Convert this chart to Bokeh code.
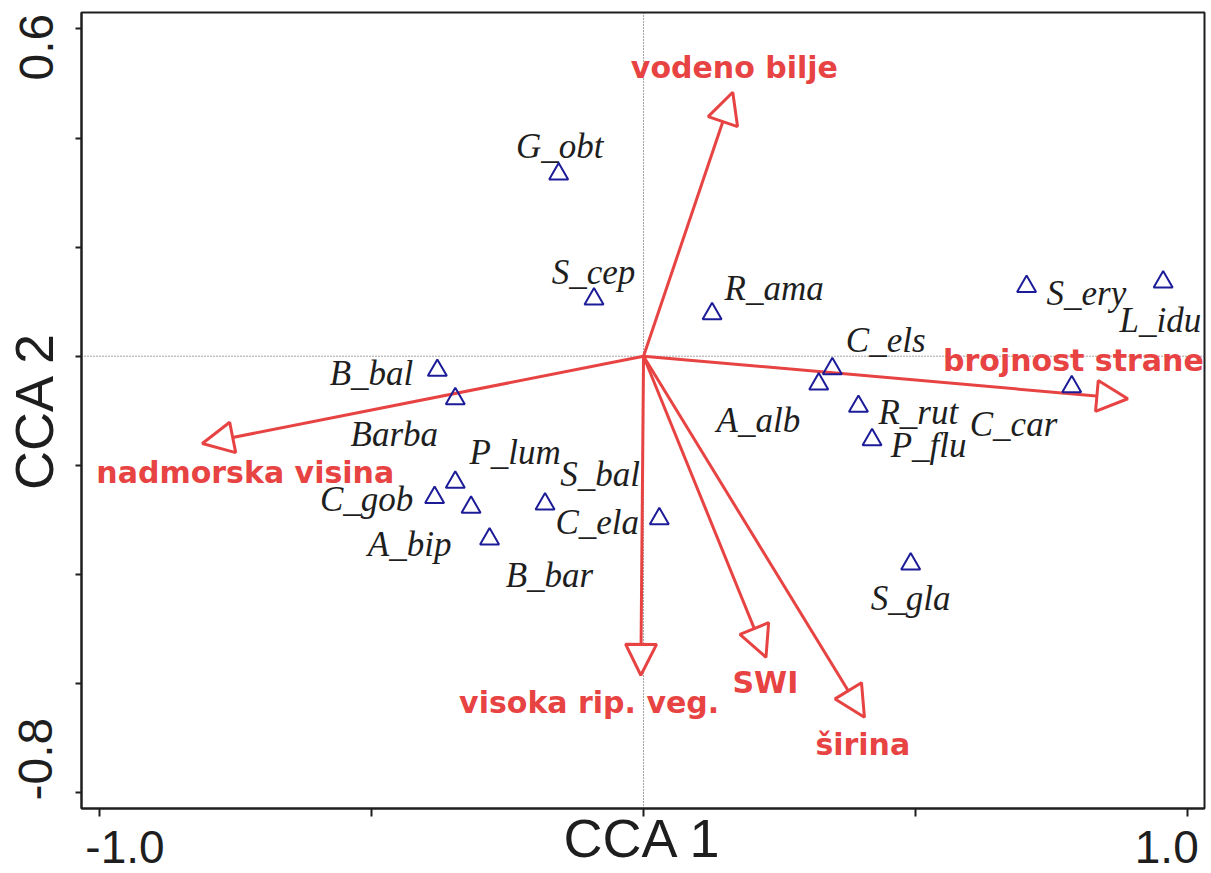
import math
from bokeh.plotting import figure
from bokeh.models import (ColumnDataSource, Arrow, NormalHead, Span,
                          FixedTicker, Range1d, CustomJSTickFormatter)
from bokeh.core.properties import value
from bokeh.embed import file_html
from bokeh.resources import INLINE

# ---- species scores (triangles) ----
species = ["G_obt", "S_cep", "R_ama", "B_bal", "Barba", "P_lum", "C_gob", "A_bip",
           "B_bar", "S_bal", "C_ela", "S_gla", "C_els", "A_alb", "R_rut", "P_flu",
           "C_car", "S_ery", "L_idu"]
sp_x = [-0.156, -0.091, 0.126, -0.379, -0.346, -0.346, -0.384, -0.317,
        -0.283, -0.181, 0.029, 0.491, 0.347, 0.322, 0.395, 0.420,
        0.787, 0.704, 0.955]
sp_y = [0.334, 0.105, 0.078, -0.026, -0.078, -0.231, -0.259, -0.277,
        -0.335, -0.271, -0.298, -0.381, -0.023, -0.051, -0.092, -0.153,
        -0.056, 0.128, 0.136]
# anchor positions of the species names (data units)
sp_label_x = [-0.154, -0.092, 0.240, -0.500, -0.458, -0.236, -0.509, -0.430,
              -0.173, -0.080, -0.085, 0.491, 0.445, 0.211, 0.505, 0.524,
              0.680, 0.814, 0.950]
sp_label_y = [0.384, 0.153, 0.124, -0.032, -0.144, -0.177, -0.263, -0.345,
              -0.402, -0.217, -0.305, -0.444, 0.029, -0.118, -0.103, -0.164,
              -0.125, 0.115, 0.066]

# ---- environmental variables (arrows) ----
env_names = ["vodeno bilje", "brojnost strane", "nadmorska visina",
             "visoka rip. veg.", "SWI", "širina"]
env_x = [0.164, 0.890, -0.811, -0.005, 0.225, 0.406]
env_y = [0.484, -0.078, -0.160, -0.585, -0.552, -0.662]
env_label_x = [0.167, 0.790, -0.732, -0.100, 0.224, 0.403]
env_label_y = [0.529, -0.008, -0.213, -0.635, -0.599, -0.712]

# ---- axes ----
x_ticks = [-1.0, -0.5, 0.0, 0.5, 1.0]
x_labeled = [-1.0, 1.0]
x_tick_labels = ["-1.0", "1.0"]
y_ticks = [0.6, 0.4, 0.2, 0.0, -0.2, -0.4, -0.6, -0.8]
y_labeled = [0.6, -0.8]
y_tick_labels = ["0.6", "-0.8"]
x_title = "CCA 1"
y_title = "CCA 2"

# tick labels are nudged toward the inside of the frame (as in the original)
x_pad_before = [4, 0]
x_pad_after = [0, 1]
y_pad_before = [0, 5]
y_pad_after = [1, 0]

RED = "#e84343"
BLUE = "#1c1c98"
INK = "#1e1e1e"

p = figure(width=1211, height=873,
           x_range=Range1d(-1.033, 1.031), y_range=Range1d(-0.8293, 0.6302),
           output_backend="svg", toolbar_location=None,
           min_border_left=79, min_border_top=12, min_border_right=7,
           min_border_bottom=65)
p.xgrid.visible = False
p.ygrid.visible = False
p.outline_line_color = INK
p.outline_line_width = 2
p.background_fill_color = "white"
p.border_fill_color = "white"

fmt_code = """
const sp = "\\u00a0";
for (let i = 0; i < vals.length; i++) {
  if (Math.abs(tick - vals[i]) < 1e-6) {
    return sp.repeat(pb[i]) + labs[i] + sp.repeat(pa[i]);
  }
}
return "";
"""
p.xaxis.ticker = FixedTicker(ticks=x_ticks, minor_ticks=[])
p.xaxis.formatter = CustomJSTickFormatter(
    args=dict(vals=x_labeled, labs=x_tick_labels, pb=x_pad_before, pa=x_pad_after), code=fmt_code)
p.yaxis.ticker = FixedTicker(ticks=y_ticks, minor_ticks=[])
p.yaxis.formatter = CustomJSTickFormatter(
    args=dict(vals=y_labeled, labs=y_tick_labels, pb=y_pad_before, pa=y_pad_after), code=fmt_code)
for ax in (p.xaxis, p.yaxis):
    ax.axis_line_color = INK
    ax.axis_line_width = 2
    ax.major_tick_line_color = INK
    ax.major_tick_line_width = 2
    ax.major_tick_in = 0
    ax.minor_tick_out = 0
    ax.minor_tick_in = 0
    ax.major_label_text_font = "Liberation Sans"
    ax.major_label_text_color = INK
    ax.axis_label_text_font = "Liberation Sans"
    ax.axis_label_text_font_style = "normal"
    ax.axis_label_text_font_size = "54px"
    ax.axis_label_text_color = INK
p.xaxis.major_label_text_font_size = "46px"
p.yaxis.major_label_text_font_size = "48px"
p.xaxis.major_tick_out = 8
p.xaxis.major_label_standoff = 4
p.xaxis.axis_label = x_title
p.xaxis.axis_label_standoff = -68
p.yaxis.major_tick_out = 6
p.yaxis.major_label_standoff = 13
p.yaxis.major_label_orientation = "vertical"
p.yaxis.axis_label = y_title
p.yaxis.axis_label_standoff = -57

# dotted cross lines through origin
p.add_layout(Span(location=0, dimension="height", line_color="#444444",
                  line_width=1, line_dash="1 2", level="underlay"))
p.add_layout(Span(location=0, dimension="width", line_color="#444444",
                  line_width=1, line_dash="1 2", level="underlay"))

# arrows
env_src = ColumnDataSource(dict(x=env_x, y=env_y, lx=env_label_x, ly=env_label_y, name=env_names))
p.add_layout(Arrow(end=NormalHead(size=31, fill_color="white", line_color=RED, line_width=3),
                   x_start=0, y_start=0, x_end="x", y_end="y", source=env_src,
                   line_color=RED, line_width=3, level="underlay"))

# species
sp_src = ColumnDataSource(dict(x=sp_x, y=sp_y, lx=sp_label_x, ly=sp_label_y, name=species))
p.scatter("x", "y", source=sp_src, marker="triangle", size=19,
          fill_color=None, line_color=BLUE, line_width=2)
p.text("lx", "ly", text="name", source=sp_src, text_font=value("Liberation Serif"),
       text_font_style="italic", text_font_size="35px", text_color=INK,
       text_align="center", text_baseline="middle")

# env labels
p.text("lx", "ly", text="name", source=env_src, text_font=value("DejaVu Sans"),
       text_font_style="bold", text_font_size="30px", text_color=RED,
       text_align="center", text_baseline="middle")

open("out.html", "w").write(file_html(p, INLINE))
